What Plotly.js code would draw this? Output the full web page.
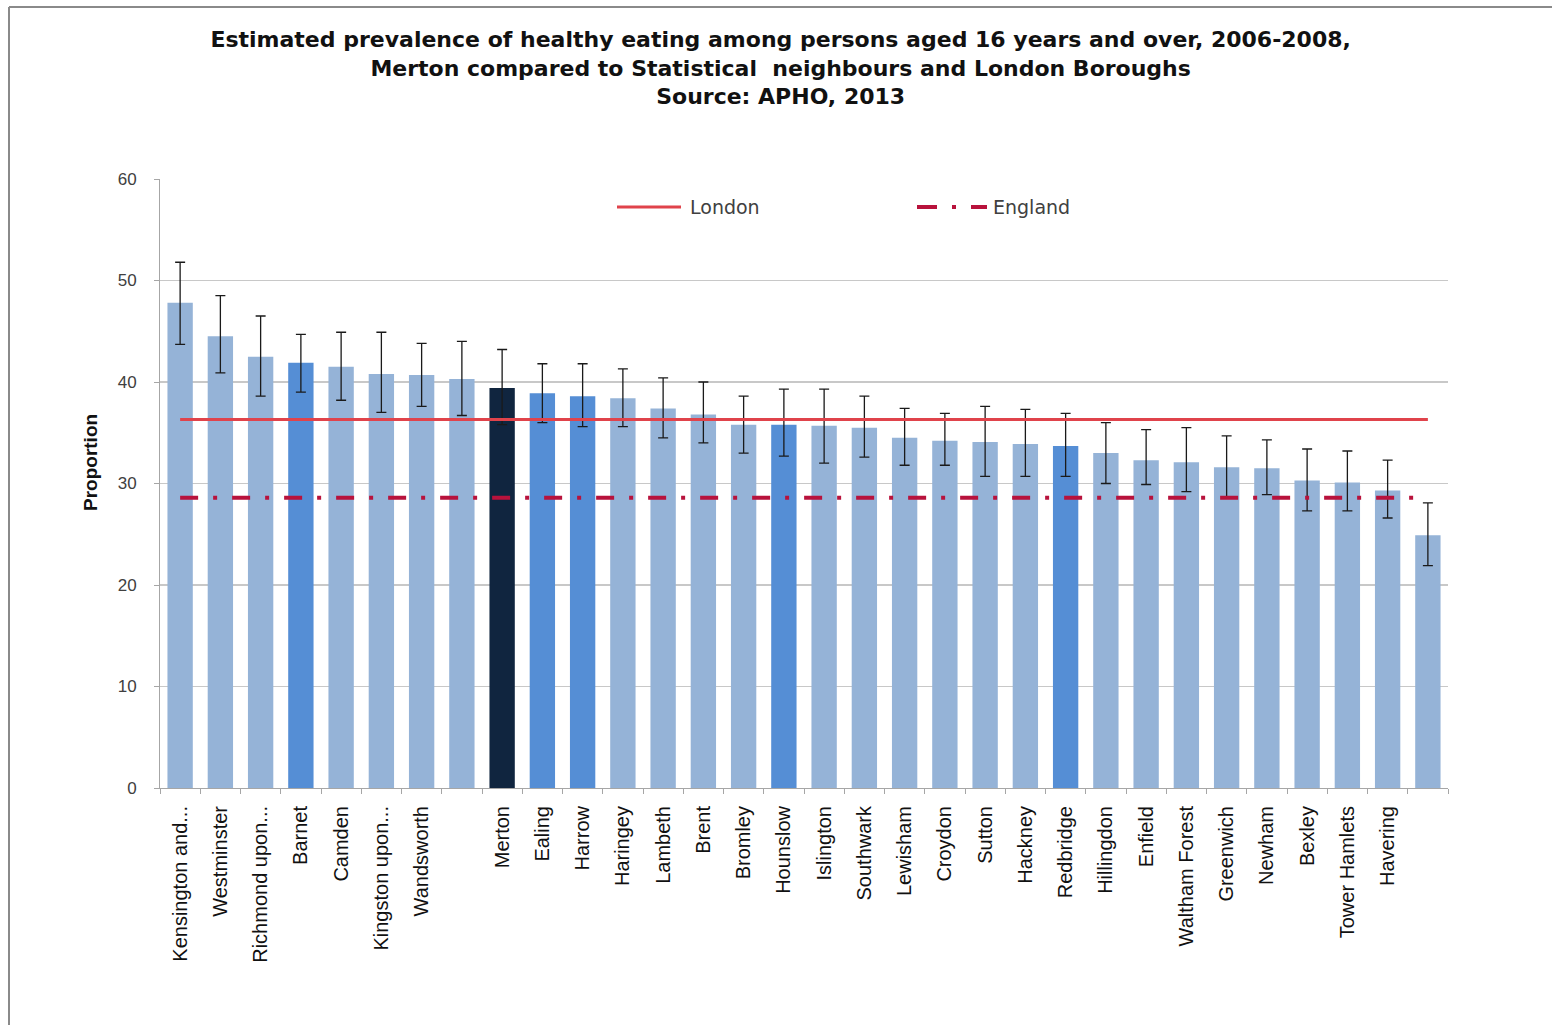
<!DOCTYPE html>
<html>
<head>
<meta charset="utf-8">
<script src="https://cdn.plot.ly/plotly-3.0.1.min.js"></script>
<style>
html,body{margin:0;padding:0;background:#fff;}
#chart{width:1552px;height:1025px;}
</style>
</head>
<body>
<div id="chart"></div>
<script>
// Data
const boroughs = ["Kensington and...", "Westminster", "Richmond upon...", "Barnet", "Camden", "Kingston upon...", "Wandsworth", " ",
  "Merton", "Ealing", "Harrow", "Haringey", "Lambeth", "Brent", "Bromley", "Hounslow", "Islington", "Southwark",
  "Lewisham", "Croydon", "Sutton", "Hackney", "Redbridge", "Hillingdon", "Enfield", "Waltham Forest", "Greenwich",
  "Newham", "Bexley", "Tower Hamlets", "Havering", "  "];
const proportion = [47.8, 44.5, 42.5, 41.9, 41.5, 40.8, 40.7, 40.3, 39.4, 38.9, 38.6, 38.4, 37.4, 36.8, 35.8, 35.8,
  35.7, 35.5, 34.5, 34.2, 34.1, 33.9, 33.7, 33.0, 32.3, 32.1, 31.6, 31.5, 30.3, 30.1, 29.3, 24.9];
const upperCI = [51.8, 48.5, 46.5, 44.7, 44.9, 44.9, 43.8, 44.0, 43.2, 41.8, 41.8, 41.3, 40.4, 40.0, 38.6, 39.3,
  39.3, 38.6, 37.4, 36.9, 37.6, 37.3, 36.9, 36.0, 35.3, 35.5, 34.7, 34.3, 33.4, 33.2, 32.3, 28.1];
const lowerCI = [43.7, 40.9, 38.6, 39.0, 38.2, 37.0, 37.6, 36.7, 35.8, 36.0, 35.6, 35.6, 34.5, 34.0, 33.0, 32.7,
  32.0, 32.6, 31.8, 31.8, 30.7, 30.7, 30.7, 30.0, 29.9, 29.2, 28.6, 28.9, 27.3, 27.3, 26.6, 21.9];
// group: 0 = London borough, 1 = statistical neighbour, 2 = Merton
const group = [0, 0, 0, 1, 0, 0, 0, 0, 2, 1, 1, 0, 0, 0, 0, 1, 0, 0, 0, 0, 0, 0, 1, 0, 0, 0, 0, 0, 0, 0, 0, 0];
const londonValue = 36.3;
const englandValue = 28.6;
const seriesNames = ["London", "England"];

const groupColors = ["#95b3d7", "#558ed5", "#10253f"];
const londonColor = "#e0434b";
const englandColor = "#b8123c";
const englandDash = "18px,15px,4px,15px";

const errPlus = upperCI.map((u, i) => +(u - proportion[i]).toFixed(2));
const errMinus = lowerCI.map((l, i) => +(proportion[i] - l).toFixed(2));

const traces = [
  {
    type: "bar",
    x: boroughs,
    y: proportion,
    marker: {color: group.map(g => groupColors[g])},
    error_y: {type: "data", symmetric: false, array: errPlus, arrayminus: errMinus,
      color: "#1a1a1a", thickness: 1.3, width: 5},
    showlegend: false,
    hoverinfo: "x+y"
  },
  {
    type: "scatter", mode: "lines", name: seriesNames[0],
    x: [boroughs[0], boroughs[boroughs.length - 1]],
    y: [londonValue, londonValue],
    line: {color: londonColor, width: 3}, showlegend: false
  },
  {
    type: "scatter", mode: "lines", name: seriesNames[1],
    x: [boroughs[0], boroughs[boroughs.length - 1]],
    y: [englandValue, englandValue],
    line: {color: englandColor, width: 4, dash: englandDash}, showlegend: false
  }
];

// pixel -> paper helpers for the legend key placed inside the plot area
const PL = 160, PW = 1288, PT = 179, PH = 609;
const px = v => (v - PL) / PW;
const py = v => (PT + PH - v) / PH;

const layout = {
  width: 1552, height: 1025,
  margin: {l: PL, r: 1552 - PL - PW, t: PT, b: 1025 - PT - PH, pad: 0},
  paper_bgcolor: "#ffffff", plot_bgcolor: "#ffffff",
  font: {family: "Liberation Sans, Arial, sans-serif", color: "#404040"},
  title: {
    text: "<b>Estimated prevalence of healthy eating among persons aged 16 years and over, 2006-2008,<br>Merton compared to Statistical  neighbours and London Boroughs<br>Source: APHO, 2013</b>",
    font: {family: "DejaVu Sans, Liberation Sans, sans-serif", size: 22, color: "#111111"},
    x: 0.503, xref: "container", xanchor: "center",
    y: 1 - 47 / 1025, yref: "container", yanchor: "top"
  },
  bargap: 0.37,
  xaxis: {
    type: "category",
    range: [-0.5, 31.5],
    tickangle: -90,
    tickfont: {family: "Liberation Sans, Arial, sans-serif", size: 20, color: "#111111"},
    ticklabelstandoff: 9,
    showline: true, linecolor: "#a6a6a6", linewidth: 1,
    ticks: "outside", ticklen: 5, tickcolor: "#a6a6a6", tickson: "boundaries",
    showgrid: false, zeroline: false, fixedrange: true
  },
  yaxis: {
    range: [0, 60], dtick: 10,
    tickfont: {family: "Liberation Sans, Arial, sans-serif", size: 17, color: "#404040"},
    showline: true, linecolor: "#a6a6a6", linewidth: 1,
    ticks: "outside", ticklen: 5, tickcolor: "#a6a6a6",
    ticklabelstandoff: 14,
    gridcolor: "#c8c8c8", gridwidth: 1.5, zeroline: false,
    fixedrange: true
  },
  annotations: [
    {text: "<b>Proportion</b>", xref: "paper", yref: "paper", x: px(90), y: py(463),
      xanchor: "center", yanchor: "middle", textangle: -90, showarrow: false,
      font: {family: "Liberation Sans, Arial, sans-serif", size: 19, color: "#111111"}},
    {text: seriesNames[0], xref: "paper", yref: "paper", x: px(688), y: py(207),
      xanchor: "left", yanchor: "middle", showarrow: false,
      font: {family: "DejaVu Sans, Liberation Sans, sans-serif", size: 19, color: "#404040"}},
    {text: seriesNames[1], xref: "paper", yref: "paper", x: px(991), y: py(207),
      xanchor: "left", yanchor: "middle", showarrow: false,
      font: {family: "DejaVu Sans, Liberation Sans, sans-serif", size: 19, color: "#404040"}}
  ],
  shapes: [
    {type: "line", xref: "paper", yref: "paper", x0: px(9), x1: px(1552), y0: py(7), y1: py(7),
      line: {color: "#8a8a8a", width: 2}},
    {type: "line", xref: "paper", yref: "paper", x0: px(9), x1: px(9), y0: py(7), y1: py(1025),
      line: {color: "#8a8a8a", width: 2}},
    {type: "line", xref: "paper", yref: "paper", x0: px(617), x1: px(681), y0: py(207), y1: py(207),
      line: {color: londonColor, width: 3}},
    {type: "line", xref: "paper", yref: "paper", x0: px(917), x1: px(987), y0: py(207), y1: py(207),
      line: {color: englandColor, width: 4, dash: "20px,15px,4px,15px"}}
  ],
  showlegend: false
};

Plotly.newPlot("chart", traces, layout, {displayModeBar: false, staticPlot: true});
</script>
</body>
</html>
